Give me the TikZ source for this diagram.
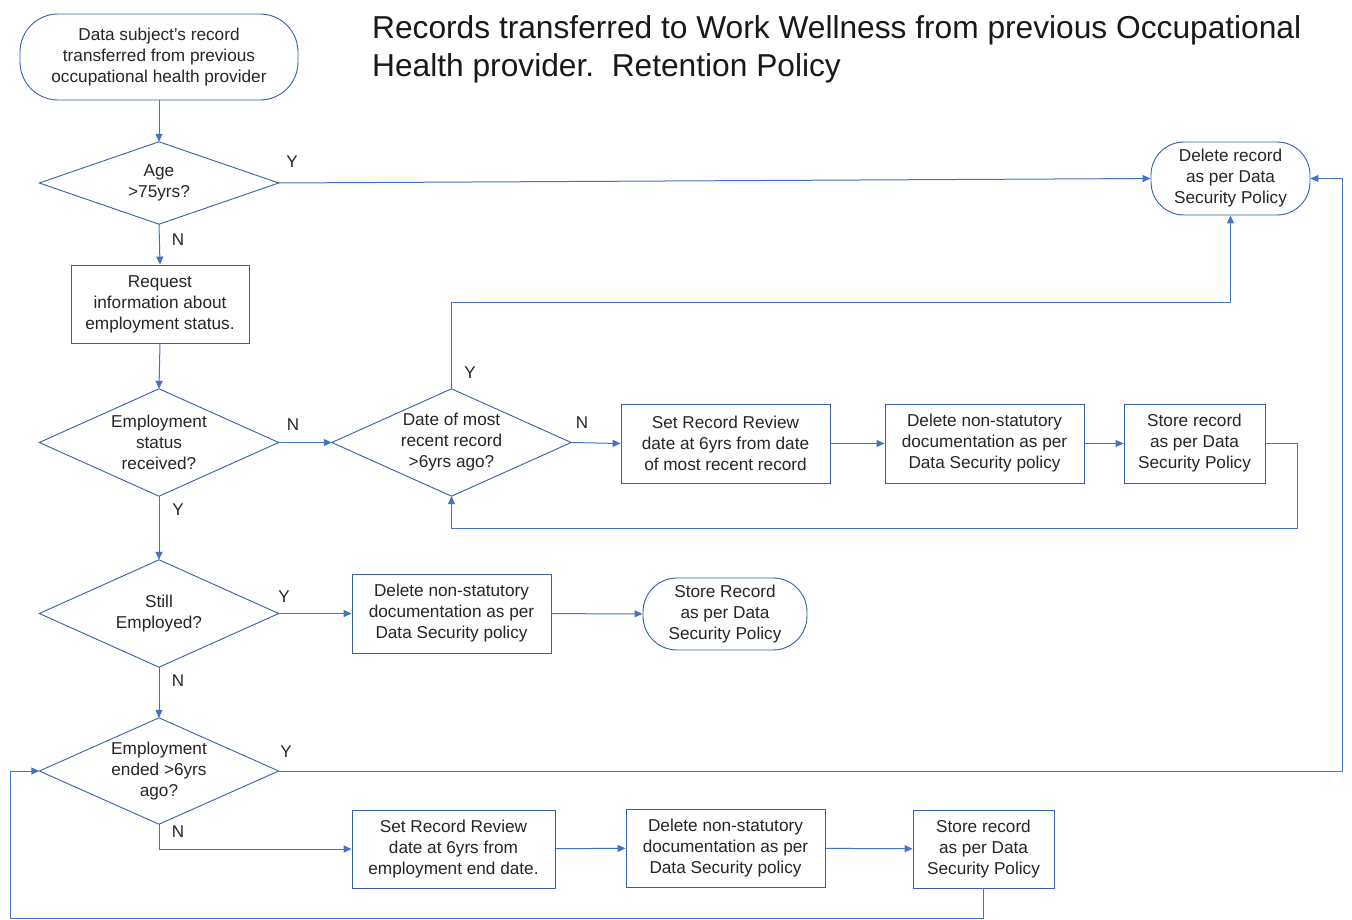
\documentclass[tikz,border=0pt]{standalone}
\usepackage{fontspec}
\setmainfont{Liberation Sans}
\usetikzlibrary{arrows.meta}
\definecolor{lineblue}{HTML}{4472C4}
\definecolor{boxblue}{HTML}{3B5FA6}
\begin{document}
\begin{tikzpicture}[x=1pt,y=-1pt,
  txt/.style={font=\fontsize{17.2}{21}\selectfont, align=center, text=black!85},
  boxn/.style={txt, draw=boxblue, line width=0.9pt, rectangle, inner sep=0pt},
  stad/.style={boxn, rounded corners=#1},
  dia/.style={txt, rectangle, inner sep=0pt},
  diadraw/.style={draw=boxblue, line width=0.9pt},
  conn/.style={draw=lineblue, line width=1pt, -{Triangle[length=8pt,width=7pt]}},
  plain/.style={draw=lineblue, line width=1pt},
  lbl/.style={font=\fontsize{17}{20}\selectfont, text=black!85, inner sep=0pt}
]
\useasboundingbox[fill=white] (0,0) rectangle (1352,920);

% title
\node[anchor=north west, align=left, inner sep=0pt, font=\fontsize{31.7}{38}\selectfont, text=black!90] (title) at (372,15)
  {Records transferred to Work Wellness from previous Occupational\\Health provider.\ \ Retention Policy};

% nodes
\node[stad=38pt, minimum width=278pt, minimum height=86pt] (start) at (159,57)
  {Data subject's record\\transferred from previous\\occupational health provider};
\node[dia, minimum width=239pt, minimum height=82pt] (age) at (159,183) {Age\\>75yrs?};
\node[stad=33pt, minimum width=159pt, minimum height=73pt] (del) at (1230.5,178.5)
  {Delete record\\as per Data\\Security Policy};
\node[boxn, minimum width=178pt, minimum height=78pt] (req) at (160,304)
  {Request\\information about\\employment status.};
\node[dia, minimum width=239pt, minimum height=107pt] (emps) at (159,442.5) {Employment\\status\\received?};
\node[dia, minimum width=239pt, minimum height=107pt] (date) at (451.5,442.5) {Date of most\\recent record\\>6yrs ago?};
\node[boxn, minimum width=209pt, minimum height=79pt] (set1) at (725.5,443.5)
  {Set Record Review\\date at 6yrs from date\\of most recent record};
\node[boxn, minimum width=199pt, minimum height=79pt] (dns1) at (984.5,443.5)
  {Delete non-statutory\\documentation as per\\Data Security policy};
\node[boxn, minimum width=141pt, minimum height=79pt] (st1) at (1194.5,443.5)
  {Store record\\as per Data\\Security Policy};
\node[dia, minimum width=239pt, minimum height=107pt] (still) at (159,613.5) {Still\\Employed?};
\node[boxn, minimum width=199pt, minimum height=79pt] (dns2) at (451.5,613.5)
  {Delete non-statutory\\documentation as per\\Data Security policy};
\node[stad=34pt, minimum width=164pt, minimum height=72pt] (st2) at (725,614)
  {Store Record\\as per Data\\Security Policy};
\node[dia, minimum width=239pt, minimum height=106pt] (ended) at (159,771) {Employment\\ended >6yrs\\ago?};
\node[boxn, minimum width=203pt, minimum height=78pt] (set2) at (453.5,849)
  {Set Record Review\\date at 6yrs from\\employment end date.};
\node[boxn, minimum width=199pt, minimum height=78pt] (dns3) at (725.5,848)
  {Delete non-statutory\\documentation as per\\Data Security policy};
\node[boxn, minimum width=141pt, minimum height=78pt] (st3) at (983.5,849)
  {Store record\\as per Data\\Security Policy};

% diamonds outlines
\foreach \d in {age,emps,date,still,ended}
  \draw[diadraw] (\d.west) -- (\d.north) -- (\d.east) -- (\d.south) -- cycle;

% coordinates
\coordinate (c1) at (451.5,302);
\coordinate (c2) at (1230.5,302);
\coordinate (c3) at (1297,443.5);
\coordinate (c4) at (1297,528);
\coordinate (c5) at (451.5,528);
\coordinate (c6) at (1342,771);
\coordinate (c7) at (1342,178.5);
\coordinate (c8) at (159,849);
\coordinate (c9) at (983.5,918);
\coordinate (c10) at (10,918);
\coordinate (c11) at (10,771);

% connectors
\draw[conn] (start) -- (age);
\draw[conn] (age.east) -- (del.west);
\draw[conn] (age.south) -- (req.north);
\draw[conn] (req.south) -- (emps.north);
\draw[conn] (emps.east) -- (date.west);
\draw[conn] (date.north) -- (c1) -- (c2) -- (del.south);
\draw[conn] (date.east) -- (set1.west);
\draw[conn] (set1) -- (dns1);
\draw[conn] (dns1) -- (st1);
\draw[conn] (st1.east) -- (c3) -- (c4) -- (c5) -- (date.south);
\draw[conn] (emps.south) -- (still.north);
\draw[conn] (still.east) -- (dns2.west);
\draw[conn] (dns2) -- (st2);
\draw[conn] (still.south) -- (ended.north);
\draw[conn] (ended.east) -- (c6) -- (c7) -- (del.east);
\draw[conn] (ended.south) -- (c8) -- (set2.west);
\draw[conn] (set2) -- (dns3);
\draw[conn] (dns3) -- (st3);
\draw[conn] (st3.south) -- (c9) -- (c10) -- (c11) -- (ended.west);

% labels
\node[lbl] (lY1) at (292,162) {Y};
\node[lbl] (lN1) at (178,240) {N};
\node[lbl] (lN2) at (293,425) {N};
\node[lbl] (lY2) at (470,373) {Y};
\node[lbl] (lN3) at (582,423) {N};
\node[lbl] (lY3) at (178,510) {Y};
\node[lbl] (lY4) at (284,597) {Y};
\node[lbl] (lN4) at (178,681) {N};
\node[lbl] (lY5) at (286,752) {Y};
\node[lbl] (lN5) at (178,832) {N};
\end{tikzpicture}
\end{document}
